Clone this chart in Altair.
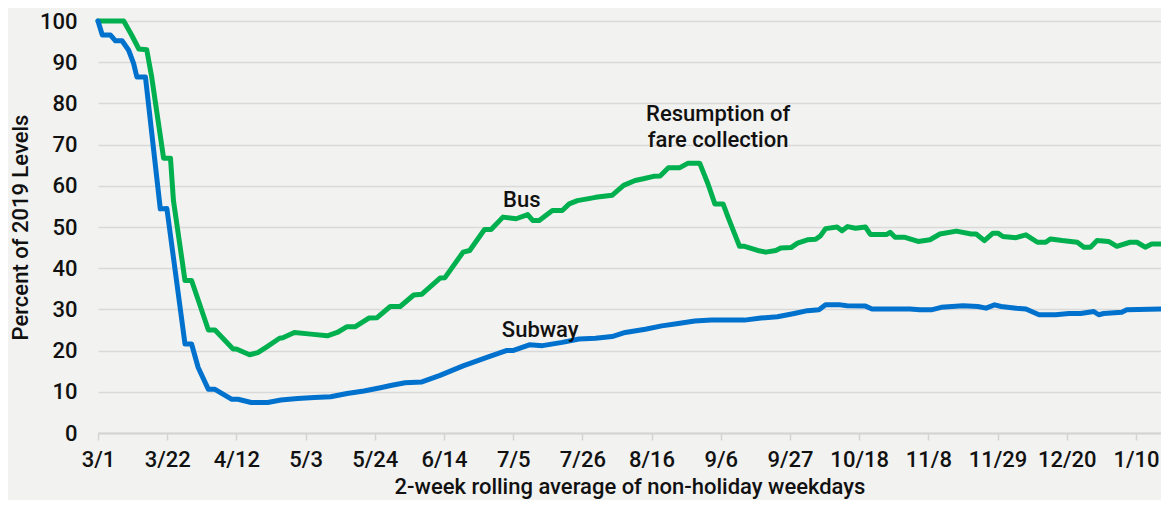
import json
import altair as alt
import pandas as pd

# Days since 3/1/2020 and percent of 2019 ridership
bus_day = [0, 7.8, 10.2, 12.4, 14.8, 16.3, 19.9, 22.0, 22.9, 26.4, 28.4, 33.5, 35.5, 41.0, 42.0,
           46.0, 48.5, 51.0, 55.1, 56.1, 59.6, 64.6, 69.6, 72.6, 75.6, 78.1, 82.2, 84.7, 88.7,
           91.7, 95.8, 98.3, 103.8, 105.3, 110.8, 112.8, 117.3, 119.3, 122.9, 126.9, 130.4,
           131.9, 133.9, 137.9, 140.9, 143.0, 145.5, 151.0, 156.0, 159.5, 163.0, 165.5, 168.6,
           170.6, 173.1, 176.6, 179.1, 182.6, 185.1, 187.2, 189.7, 191.2, 194.7, 196.2, 200.2,
           202.7, 205.7, 207.2, 210.3, 212.3, 215.3, 217.8, 219.3, 220.8, 224.3, 225.8, 227.5,
           229.9, 232.9, 234.4, 239.4, 240.4, 241.9, 244.9, 248.9, 252.5, 255.5, 260.5, 265.0,
           266.5, 269.0, 271.6, 273.1, 274.6, 278.6, 281.6, 285.1, 287.6, 289.1, 292.6, 297.2,
           299.2, 301.2, 303.2, 306.7, 309.2, 313.2, 315.3, 317.8, 319.8, 322.5]
bus_pct = [100, 100, 96.6, 93.2, 93.0, 86.4, 66.7, 66.7, 56.4, 37.0, 37.0, 25.0, 25.0, 20.4, 20.4,
           19.0, 19.5, 20.8, 23.0, 23.1, 24.4, 24.0, 23.6, 24.4, 25.8, 25.8, 27.9, 28.0, 30.7,
           30.7, 33.5, 33.7, 37.6, 37.7, 43.9, 44.3, 49.4, 49.4, 52.4, 52.0, 53.0,
           51.6, 51.6, 54.0, 54.0, 55.6, 56.4, 57.2, 57.7, 60.1, 61.3, 61.7, 62.3,
           62.4, 64.4, 64.4, 65.5, 65.5, 60.5, 55.6, 55.6, 52.4, 45.3, 45.3, 44.3,
           43.9, 44.3, 44.9, 45.0, 46.1, 46.9, 47.0, 47.9, 49.6, 50.0, 49.1, 50.1,
           49.7, 50.0, 48.2, 48.2, 48.7, 47.5, 47.5, 46.5, 46.9, 48.3, 49.0, 48.3,
           48.3, 46.7, 48.5, 48.5, 47.7, 47.4, 48.1, 46.3, 46.3, 47.1, 46.7, 46.3,
           45.1, 45.1, 46.7, 46.5, 45.3, 46.3, 46.3, 45.1, 45.9, 45.9]

subway_day = [0, 1.3, 3.8, 5.3, 7.3, 9.3, 10.8, 11.8, 14.4, 18.9, 20.9, 26.4, 28.4, 30.4, 33.5,
              35.5, 40.5, 42.5, 46.5, 51.5, 55.5, 60.6, 65.6, 70.6, 75.6, 80.7, 85.7, 89.2,
              93.2, 98.3, 103.8, 110.8, 117.8, 123.9, 125.9, 130.9, 134.9, 140.9, 146.0, 151.0,
              156.0, 160.0, 166.1, 171.1, 176.1, 181.1, 186.2, 196.2, 201.2, 206.2, 211.3,
              215.3, 218.8, 220.8, 225.3, 227.3, 232.9, 234.9, 246.4, 249.4, 252.9, 255.9,
              262.5, 267.0, 269.5, 272.1, 274.1, 278.6, 281.6, 285.6, 290.6, 294.7, 298.2,
              302.2, 303.7, 305.2, 310.7, 312.2, 322.5]
subway_pct = [100, 96.6, 96.6, 95.2, 95.2, 92.9, 89.7, 86.4, 86.4, 54.4, 54.5, 21.6, 21.6, 15.9, 10.6,
              10.6, 8.2, 8.2, 7.4, 7.4, 8.0, 8.4, 8.6, 8.8, 9.6, 10.2, 11.0, 11.6,
              12.2, 12.4, 14.0, 16.3, 18.3, 20.0, 20.0, 21.4, 21.2, 22.0, 22.8, 23.0,
              23.4, 24.4, 25.2, 26.0, 26.6, 27.2, 27.4, 27.4, 27.9, 28.2, 29.0,
              29.7, 29.9, 31.1, 31.1, 30.9, 30.8, 30.1, 30.1, 29.9, 29.9, 30.5,
              30.9, 30.7, 30.3, 31.1, 30.7, 30.3, 30.1, 28.7, 28.7, 29.0, 29.0,
              29.5, 28.7, 29.0, 29.3, 29.9, 30.1]

tick_days = [0, 21, 42, 63, 84, 105, 126, 147, 168, 189, 210, 231, 252, 273, 294, 315]
tick_labels = ["3/1", "3/22", "4/12", "5/3", "5/24", "6/14", "7/5", "7/26", "8/16", "9/6",
               "9/27", "10/18", "11/8", "11/29", "12/20", "1/10"]

note_text = ["Bus", "Subway", "Resumption of", "fare collection"]
note_day = [128.6, 134.2, 188.2, 188.2]
note_pct = [56.6, 25.0, 77.4, 71.1]

series = ["Bus", "Subway"]
colors = ["#00B04F", "#0072CE"]
BG = "#f2f2f0"

df = pd.concat([
    pd.DataFrame({"day": bus_day, "pct": bus_pct, "mode": "Bus", "order": 0}),
    pd.DataFrame({"day": subway_day, "pct": subway_pct, "mode": "Subway", "order": 1}),
])
notes = pd.DataFrame({"day": note_day, "pct": note_pct, "text": note_text})

FONT = "Roboto"
FS = 22
label_expr = json.dumps(tick_labels) + "[round(datum.value / 21)]"

xscale = alt.Scale(domain=[0, 322.6], nice=False, zero=False)
yscale = alt.Scale(domain=[0, 100], nice=False)

lines = alt.Chart(df).mark_line(strokeWidth=5, strokeJoin="round", strokeCap="round").encode(
    x=alt.X("day:Q", scale=xscale,
            axis=alt.Axis(values=tick_days, labelExpr=label_expr,
                          title="2-week rolling average of non-holiday weekdays",
                          grid=False, labelFlush=False, labelOverlap=False,
                          domainColor="#d4d4d4", domainWidth=2,
                          tickColor="#d4d4d4", tickWidth=1.5, tickSize=7,
                          labelPadding=9, titlePadding=6)),
    y=alt.Y("pct:Q", scale=yscale,
            axis=alt.Axis(values=list(range(0, 101, 10)), title="Percent of 2019 Levels",
                          grid=True, gridColor="#d9d9d9", gridWidth=1.5,
                          domain=False, ticks=False, tickSize=0, labelPadding=21,
                          titlePadding=7)),
    color=alt.Color("mode:N", scale=alt.Scale(domain=series, range=colors), legend=None),
    detail="mode:N",
    order="order:Q",
)

text = alt.Chart(notes).mark_text(font=FONT, fontSize=FS, fontWeight=500, color="#111111",
                                  align="center", baseline="middle").encode(
    x=alt.X("day:Q", scale=xscale),
    y=alt.Y("pct:Q", scale=yscale),
    text="text:N",
)

chart = alt.layer(lines, text).properties(
    width=1063, height=412,
    autosize=alt.AutoSizeParams(type="none"),
    padding={"left": 90, "top": 13, "right": 0, "bottom": 67},
    background=BG,
).configure_view(strokeWidth=0).configure_axis(
    labelFont=FONT, titleFont=FONT, labelFontSize=FS, titleFontSize=FS,
    labelFontWeight=500, titleFontWeight=500,
    labelColor="#111111", titleColor="#111111",
)

chart.save("out.html", embed_options={"renderer": "svg", "actions": False})
